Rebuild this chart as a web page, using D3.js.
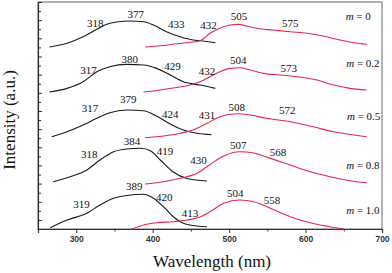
<!DOCTYPE html>
<html><head><meta charset="utf-8">
<script src="https://cdn.jsdelivr.net/npm/d3@7"></script>
<style>html,body{margin:0;padding:0;background:#fff;}svg{display:block;}</style>
</head><body>
<svg id="chart" width="392" height="273"></svg>
<script>
// ---- data (wavelength in nm, stacked intensity in a.u.) ----
const mValues = ["0", "0.2", "0.5", "0.8", "1.0"];

const excWl0 = [265, 288, 309, 327, 340, 353, 370, 388, 401, 418, 436, 453, 462, 482];
const excI0  = [20.04, 20.45, 21.17, 21.99, 22.54, 22.79, 22.90, 22.82, 22.46, 21.72, 21.17, 20.81, 20.73, 20.51];
const emWl0  = [390, 410, 429, 449, 462, 475, 488, 501, 512, 523, 536, 558, 580, 602, 623, 645, 663, 680];
const emI0   = [20.04, 20.18, 20.37, 20.56, 20.73, 21.55, 22.10, 22.46, 22.54, 22.35, 22.10, 21.91, 21.72, 21.55, 21.25, 20.81, 20.51, 20.34];

const excWl1 = [265, 288, 309, 327, 344, 366, 388, 405, 423, 440, 449, 462, 482];
const excI1  = [15.08, 15.49, 16.22, 17.32, 17.87, 18.13, 18.06, 17.69, 16.96, 16.22, 16.04, 15.85, 15.49];
const emWl1  = [388, 410, 429, 449, 462, 475, 488, 501, 514, 528, 545, 567, 589, 615, 637, 658, 680];
const emI1   = [15.08, 15.30, 15.56, 15.85, 16.22, 16.77, 17.32, 17.69, 17.76, 17.51, 17.14, 16.96, 16.77, 16.40, 15.85, 15.49, 15.30];

const excWl2 = [268, 288, 309, 327, 344, 366, 388, 405, 423, 440, 458, 477];
const excI2  = [10.16, 10.71, 11.45, 12.19, 12.80, 13.10, 13.02, 12.44, 11.56, 10.90, 10.54, 10.38];
const emWl2  = [390, 414, 436, 453, 471, 488, 510, 528, 549, 580, 610, 637, 663, 680];
const emI2   = [10.05, 10.24, 10.54, 10.90, 11.64, 12.36, 12.69, 12.55, 12.19, 11.81, 11.26, 10.71, 10.35, 10.16];

const excWl3 = [270, 292, 314, 331, 349, 366, 384, 397, 410, 427, 445, 471];
const excI3  = [5.21, 5.76, 6.50, 7.60, 8.51, 8.81, 8.89, 8.62, 7.60, 6.28, 5.56, 5.28];
const emWl3  = [390, 414, 436, 458, 475, 493, 514, 532, 554, 580, 606, 632, 658, 680];
const emI3   = [4.95, 5.21, 5.58, 6.13, 7.10, 8.04, 8.51, 8.37, 7.78, 7.05, 6.31, 5.76, 5.32, 5.10];

const excWl4 = [266, 288, 314, 331, 349, 366, 388, 401, 414, 427, 440, 458, 471];
const excI4  = [0.14, 0.99, 1.73, 2.64, 3.38, 3.69, 3.82, 3.38, 2.46, 1.35, 0.63, 0.33, 0.25];
const emWl4  = [373, 388, 405, 427, 445, 462, 475, 493, 514, 532, 554, 580, 606, 632, 650];
const emI4   = [0.00, 0.44, 0.69, 0.80, 0.99, 1.32, 1.90, 2.83, 3.19, 3.01, 2.28, 1.35, 0.69, 0.25, 0.00];

const excWl = [excWl0, excWl1, excWl2, excWl3, excWl4];
const excI  = [excI0, excI1, excI2, excI3, excI4];
const emWl  = [emWl0, emWl1, emWl2, emWl3, emWl4];
const emI   = [emI0, emI1, emI2, emI3, emI4];

// peak annotations: text, wavelength, intensity
const peakText = ["318","377","433","432","505","575",
                  "317","380","429","432","504","573",
                  "317","379","424","431","508","572",
                  "318","384","419","430","507","568",
                  "319","389","420","413","504","558"];
const peakWl = [325,378,431,473,513,580,
                316,370,426,471,512,578,
                318,368,423,471,510,576,
                317,373,416,460,512,564,
                307,376,415,449,508,556];
const peakI = [22.26,23.28,22.18,22.07,22.98,22.26,
               17.04,18.33,17.48,17.00,18.14,17.30,
               12.85,13.89,12.24,12.16,13.01,12.71,
               7.86,9.22,8.12,7.20,8.85,8.01,
               2.36,4.34,3.09,1.33,3.54,2.80];
const legendWl = [669, 675, 676, 675, 675];
const legendI  = [22.98, 17.85, 11.97, 6.65, 1.70];

const xTicks = [300, 400, 500, 600, 700];
const xMinor = [250, 350, 450, 550, 650];
const xDomain = [250, 700];
const yDomain = [0, 25];

// ---- drawing ----
const SERIF = '"Liberation Serif"';
const SANS = '"Liberation Sans"';
const svg = d3.select("#chart");
const L = 38, R = 382, T = 2, B = 229;
const x = d3.scaleLinear().domain(xDomain).range([L, R]);
const y = d3.scaleLinear().domain(yDomain).range([B, T]);

// frame
svg.append("rect").attr("x", L).attr("y", T).attr("width", R - L).attr("height", B - T)
  .attr("fill", "none").attr("stroke", "#666").attr("stroke-width", 1);

// x axis
const xAxis = svg.append("g").attr("transform", `translate(0,${B})`)
  .call(d3.axisBottom(x).tickValues(xTicks).tickSize(4).tickPadding(3).tickFormat(d3.format("d")));
xAxis.attr("font-family", null).attr("font-size", null);
xAxis.select(".domain").attr("stroke", "#333").attr("stroke-width", 1.2);
xAxis.selectAll(".tick line").attr("stroke", "#333");
xAxis.selectAll("text").style("font-family", SANS).style("font-size", "8.5px")
  .attr("fill", "#333").style("font-weight", "bold");
svg.append("g").attr("transform", `translate(0,${B})`)
  .call(d3.axisBottom(x).tickValues(xMinor).tickSize(2.5).tickFormat(""))
  .call(g => g.select(".domain").remove())
  .selectAll(".tick line").attr("stroke", "#333");

// y axis (ticks inward, no labels)
const yTicks = d3.range(0, 26, 1);
const yAxis = svg.append("g").attr("transform", `translate(${L},0)`)
  .call(d3.axisRight(y).tickValues(yTicks).tickSize(4).tickFormat(""));
yAxis.select(".domain").attr("stroke", "#333").attr("stroke-width", 1.2);
yAxis.selectAll(".tick line").attr("stroke", "#333")
  .attr("x2", d => (d % 2 === 0 ? 3 : 4));

// curves
const line = d3.line().x(d => x(d[0])).y(d => y(d[1])).curve(d3.curveMonotoneX);
for (let i = 0; i < 5; i++) {
  const exc = excWl[i].map((w, j) => [w, excI[i][j]]);
  const em = emWl[i].map((w, j) => [w, emI[i][j]]);
  svg.append("path").datum(exc).attr("d", line).attr("fill", "none")
    .attr("stroke", "#1a1a1a").attr("stroke-width", 1.1);
  svg.append("path").datum(em).attr("d", line).attr("fill", "none")
    .attr("stroke", "#e5254d").attr("stroke-width", 1.1);
}

// peak labels
svg.append("g").selectAll("text").data(peakText).join("text")
  .attr("x", (d, i) => x(peakWl[i])).attr("y", (d, i) => y(peakI[i]))
  .attr("text-anchor", "middle").style("font-family", SERIF).style("font-size", "11px")
  .attr("fill", "#111").text(d => d);

// legend-like labels
const lg = svg.append("g").selectAll("text").data(mValues).join("text")
  .attr("x", (d, i) => x(legendWl[i])).attr("y", (d, i) => y(legendI[i]))
  .attr("text-anchor", "middle").style("font-family", SERIF).style("font-size", "11px").attr("fill", "#111");
lg.append("tspan").style("font-style", "italic").text("m");
lg.append("tspan").text(d => " = " + d);

// axis titles
svg.append("text").attr("x", 212).attr("y", 266.5).attr("text-anchor", "middle")
  .style("font-family", SERIF).style("font-size", "17px").attr("fill", "#111").text("Wavelength (nm)");
svg.append("text").attr("transform", "translate(15,120) rotate(-90)").attr("text-anchor", "middle")
  .style("font-family", SERIF).style("font-size", "17px").attr("fill", "#111").text("Intensity (a.u.)");
</script>
</body></html>
